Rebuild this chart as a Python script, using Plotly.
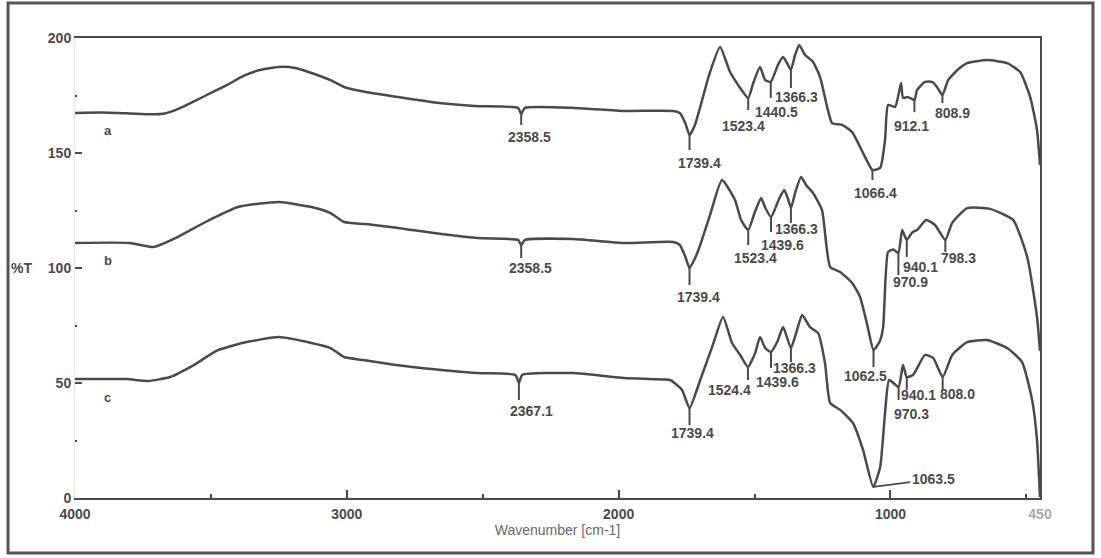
import numpy as np
import plotly.graph_objects as go

# ---------------- data ----------------
wn_a = [4000, 3900, 3800, 3720, 3670, 3620, 3560, 3500, 3440, 3380, 3320, 3250, 3190, 3130,
        3060, 3010, 2930, 2810, 2660, 2530, 2370, 2358.5, 2345, 2160, 1980, 1800, 1775, 1755,
        1739.4, 1720, 1700, 1665, 1627, 1590, 1553, 1523.4, 1505, 1480, 1461, 1440.5, 1414,
        1395, 1377, 1366.3, 1351, 1336, 1314, 1285, 1259, 1233, 1215, 1178, 1141, 1101, 1066.4,
        1038, 1020, 1009, 983, 961, 954, 935, 912.1, 902, 873, 847, 829, 808.9, 788, 750, 718,
        645, 571, 523, 486, 461, 450]
t_a = [167.4, 167.6, 167.2, 166.8, 167.2, 169.2, 172.6, 176.1, 179.6, 183.5, 186.1, 187.4, 187.0,
       184.8, 181.7, 178.7, 176.5, 174.3, 171.7, 170.4, 169.6, 167.0, 169.6, 169.6, 168.3, 168.3,
       167.4, 163.0, 157.8, 162.0, 170.0, 184.8, 196.1, 185.2, 178.3, 173.9, 180.4, 187.4, 181.7,
       180.9, 188.3, 191.7, 188.3, 186.1, 192.6, 197.0, 192.6, 189.6, 183.0, 170.0, 163.0, 162.2,
       159.1, 150.0, 142.6, 143.5, 155.7, 170.9, 170.0, 180.4, 174.0, 174.3, 173.0, 177.4, 180.9,
       180.9, 178.7, 175.2, 181.7, 186.5, 189.1, 190.4, 189.1, 185.2, 174.3, 160.0, 144.8]

wn_b = [4000, 3800, 3710, 3630, 3520, 3400, 3250, 3130, 3060, 3010, 2930, 2810, 2760, 2520, 2370,
        2358.5, 2345, 2170, 1980, 1800, 1775, 1755, 1739.4, 1720, 1700, 1664, 1620, 1572, 1550,
        1523.4, 1500, 1476, 1460, 1439.6, 1410, 1391, 1377, 1366.3, 1350, 1329, 1310, 1285, 1252,
        1222, 1185, 1141, 1112, 1085, 1062.5, 1040, 1027, 1009, 990, 970.9, 957, 940.1, 920, 902,
        869, 836, 798.3, 773, 718, 634, 549, 497, 461, 450]
t_b = [110.9, 110.9, 109.1, 113.0, 120.0, 126.5, 128.7, 126.5, 123.9, 120.0, 119.1, 117.4, 116.5,
       113.0, 112.2, 110.0, 112.2, 112.6, 110.9, 111.3, 110.0, 105.0, 100.0, 104.0, 110.0, 123.0,
       138.3, 129.6, 121.0, 116.5, 124.0, 130.4, 126.0, 122.2, 130.0, 133.9, 130.0, 126.1, 133.0,
       139.6, 136.0, 132.6, 125.2, 100.4, 98.3, 93.5, 87.4, 75.0, 64.3, 68.0, 74.3, 107.0, 108.0,
       106.5, 116.5, 112.2, 115.5, 116.5, 120.9, 118.7, 112.2, 119.6, 126.0, 125.7, 120.9, 104.8,
       78.7, 64.0]

wn_c = [4000, 3810, 3730, 3650, 3560, 3480, 3380, 3250, 3130, 3060, 3010, 2940, 2820, 2760, 2520,
        2380, 2367.1, 2355, 2170, 1980, 1884, 1811, 1767, 1739.4, 1700, 1656, 1616, 1583, 1553,
        1524.4, 1498, 1480, 1461, 1439.6, 1417, 1395, 1366.3, 1344, 1325, 1296, 1266, 1241, 1222,
        1185, 1138, 1101, 1063.5, 1038, 1020, 1005, 970.3, 954, 940.1, 917, 873, 843, 808.0, 773,
        718, 645, 571, 516, 479, 461, 450]
t_c = [51.7, 51.7, 50.9, 52.6, 58.0, 64.0, 67.5, 70.0, 67.4, 65.2, 61.3, 60.0, 57.8, 57.0, 54.3,
       53.5, 50.0, 53.5, 54.3, 52.2, 51.7, 51.3, 47.0, 39.1, 51.3, 65.7, 78.7, 67.4, 62.2, 57.0,
       63.0, 70.0, 65.2, 63.5, 67.8, 74.3, 65.2, 73.0, 79.6, 74.3, 71.7, 58.7, 41.3, 38.3, 32.6,
       20.9, 4.8, 13.5, 37.0, 51.3, 48.3, 57.8, 52.6, 53.5, 62.2, 60.9, 52.6, 62.2, 67.8, 68.7,
       65.2, 59.1, 42.6, 25.2, 0.4]

series_names = ["a", "b", "c"]

peaks_a = [2358.5, 1739.4, 1523.4, 1440.5, 1366.3, 1066.4, 912.1, 808.9]
peaks_b = [2358.5, 1739.4, 1523.4, 1439.6, 1366.3, 1062.5, 970.9, 940.1, 798.3]
peaks_c = [2367.1, 1739.4, 1524.4, 1439.6, 1366.3, 970.3, 940.1, 808.0]
peak_c_arrow = 1063.5

x_tickvals = [4000, 3000, 2000, 1000, 450]
x_ticktext = ["4000", "3000", "2000", "1000", "<span style='color:#aaaaaa'>450</span>"]
y_tickvals = [0, 50, 100, 150, 200]

# ---------------- styles (pixel offsets for peak labels) ----------------
# (tick length, text dx, text dy) per peak label
style_a = [(11, 8, 23), (15, 10, 28), (12, -5, 28), (16, 6, 30), (18, 6, 27),
           (10, 3, 23), (12, -3, 26), (8, 10, 18)]
style_b = [(13, 9, 23), (17, 9, 29), (15, 7, 28), (15, 11, 28), (15, 6, 21),
           (17, -8, 26), (22, 12, 29), (17, 14, 27), (12, 13, 18)]
style_c = [(17, 13, 28), (17, 3, 25), (13, -18, 23), (16, 6, 30), (14, 4, 20),
           (13, 13, 27), (13, 12, 18), (13, 15, 17)]

INK = "#4a4a4a"
FONT = "Liberation Sans"

fig = go.Figure()
curves = [(wn_a, t_a), (wn_b, t_b), (wn_c, t_c)]
for (wn, tt), nm in zip(curves, series_names):
    fig.add_trace(go.Scatter(x=wn, y=tt, mode="lines", name=nm,
                             line=dict(color=INK, width=2.5, shape="spline", smoothing=0.5),
                             showlegend=False, hoverinfo="skip"))


def curve_at(wn, tt, w):
    return float(np.interp(w, wn[::-1], tt[::-1]))


shapes = []
annotations = []
for (wn, tt), peaks, styles in zip(curves, [peaks_a, peaks_b, peaks_c], [style_a, style_b, style_c]):
    for w, (L, dx, dy) in zip(peaks, styles):
        yv = curve_at(wn, tt, w)
        shapes.append(dict(type="line", xref="x", yref="y", x0=w, x1=w,
                           ysizemode="pixel", yanchor=yv, y0=0, y1=-L,
                           line=dict(color=INK, width=2)))
        annotations.append(dict(x=w, y=yv, xref="x", yref="y", text=f"{w:.1f}",
                                showarrow=False, xshift=dx, yshift=-dy,
                                xanchor="center", yanchor="middle",
                                font=dict(family=FONT, size=14, color=INK, weight="bold")))

# slanted leader for 1063.5 on curve c
yv = curve_at(wn_c, t_c, peak_c_arrow)
annotations.append(dict(x=peak_c_arrow, y=yv, xref="x", yref="y", text=f"{peak_c_arrow:.1f}",
                        showarrow=True, arrowhead=0, arrowwidth=1.8, arrowcolor=INK,
                        ax=60, ay=-8, xanchor="center", yanchor="middle",
                        font=dict(family=FONT, size=14, color=INK, weight="bold")))

# series letters
for (wn, tt), nm in zip(curves, series_names):
    annotations.append(dict(x=3880, y=curve_at(wn, tt, 3880), xref="x", yref="y", text=nm,
                            showarrow=False, yshift=-18, xanchor="center", yanchor="middle",
                            font=dict(family=FONT, size=13, color=INK, weight="bold")))

# %T label
annotations.append(dict(x=-0.055, y=100, xref="paper", yref="y", text="%T", showarrow=False,
                        xanchor="center", yanchor="middle",
                        font=dict(family=FONT, size=14, color=INK, weight="bold")))

# outer frame
shapes.append(dict(type="rect", xref="paper", yref="paper", x0=-0.0694, x1=1.0549,
                   y0=-0.1196, y1=1.0761, line=dict(color="#555555", width=3),
                   fillcolor="rgba(0,0,0,0)", layer="below"))

fig.update_layout(
    width=1101, height=558,
    margin=dict(l=75, r=61, t=38, b=60),
    paper_bgcolor="white", plot_bgcolor="white",
    shapes=shapes, annotations=annotations,
    xaxis=dict(range=[4000, 450], showgrid=False, zeroline=False,
               showline=True, linecolor=INK, linewidth=2, mirror=True,
               tickmode="array", tickvals=x_tickvals, ticktext=x_ticktext,
               ticks="inside", ticklen=8, tickwidth=2, tickcolor=INK,
               ticklabelstandoff=2,
               minor=dict(tickmode="array", tickvals=[3500, 2500, 1500, 500],
                          ticks="inside", ticklen=4, tickwidth=1.5, tickcolor=INK),
               tickfont=dict(family=FONT, size=14, color=INK, weight="bold"),
               title=dict(text="Wavenumber [cm-1]", standoff=4,
                          font=dict(family=FONT, size=14, color="#6a6a6a"))),
    yaxis=dict(range=[0, 200], showgrid=False, zeroline=False,
               showline=True, linecolor="#e6e6e6", linewidth=1,
               tickmode="array", tickvals=y_tickvals,
               ticks="inside", ticklen=7, tickwidth=2, tickcolor=INK,
               minor=dict(tickmode="array", tickvals=[25, 75, 125, 175],
                          ticks="inside", ticklen=2, tickwidth=2, tickcolor=INK),
               tickfont=dict(family=FONT, size=14, color=INK, weight="bold")),
    yaxis2=dict(range=[0, 200], overlaying="y", side="right", showgrid=False,
                zeroline=False, showline=True, linecolor=INK, linewidth=2,
                showticklabels=False, ticks=""),
)
# invisible trace to activate the right axis line
fig.add_trace(go.Scatter(x=[4000], y=[0], yaxis="y2", mode="markers",
                         marker=dict(opacity=0), showlegend=False, hoverinfo="skip"))

fig.write_html("out.html")
